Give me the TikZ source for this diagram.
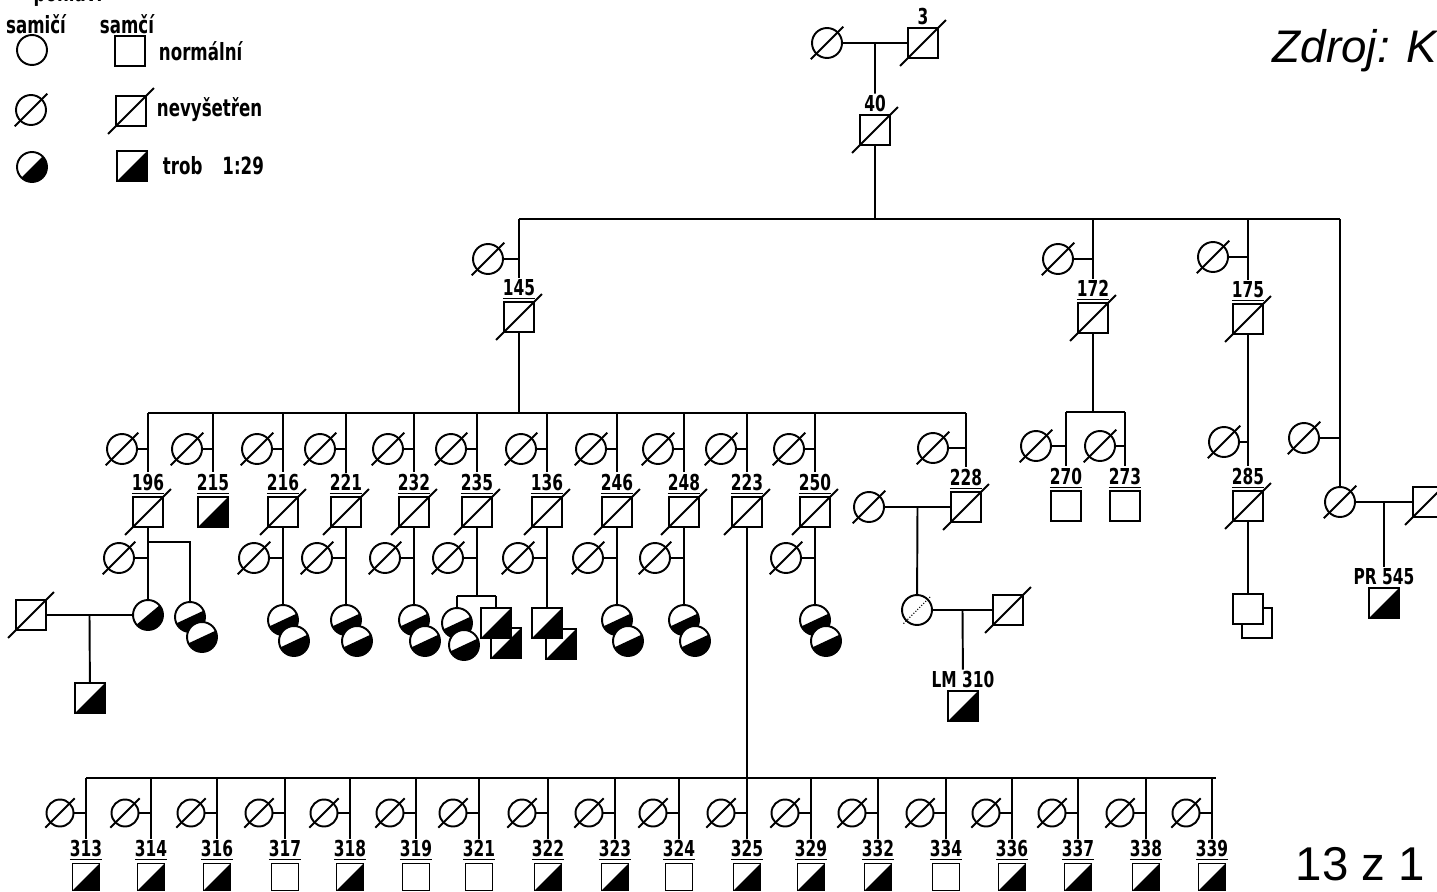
\documentclass[tikz,border=0pt]{standalone}
\usepackage{fontspec}
\setmainfont{Liberation Sans}
\newfontfamily\labfont[FakeStretch=0.78]{DejaVu Sans Condensed}
\usetikzlibrary{positioning,calc}
\tikzset{
  ind/.style={draw,fill=white,inner sep=0pt,minimum size=0.6cm},
  fem/.style={ind,circle},
  mal/.style={ind,rectangle},
  small/.style={minimum size=0.54cm},
  nv/.style={append after command={
    ($(\tikzlastnode.south west)!-0.22!(\tikzlastnode.north east)$) edge
    ($(\tikzlastnode.north east)!-0.22!(\tikzlastnode.south west)$)}},
  nvd/.style={append after command={
    ($(\tikzlastnode.south west)!-0.1!(\tikzlastnode.north east)$) edge[densely dotted,line width=0.6pt]
    ($(\tikzlastnode.north east)!-0.1!(\tikzlastnode.south west)$)}},
  aff/.style={path picture={\fill[black]
    ($(path picture bounding box.center)+(#1:1cm)$) --
    ($(path picture bounding box.center)+(#1-90:1cm)$) --
    ($(path picture bounding box.center)+(#1+180:1cm)$) -- cycle;}},
  aff/.default=45,
  nrm/.style={},
  num/.style={font=\labfont\bfseries\fontsize{12.5}{13}\selectfont,inner sep=0.5pt},
  leg/.style={font=\labfont\bfseries\fontsize{13.5}{15}\selectfont,inner sep=0pt,anchor=west},
}

\begin{document}
\begin{tikzpicture}[x=0.02cm,y=-0.02cm,line width=1.1pt]
  \useasboundingbox (0,0) rectangle (1437,892);
  % legend
  \node[leg,anchor=center] (pohl) at (68,-6) {pohlaví};
  \node[leg,anchor=center] (samici) at (36,24) {samičí};
  \node[leg,anchor=center] (samci) at (127,24) {samčí};
  \node[fem] (lf1) at (32,50) {};
  \node[mal] (lm1) at (130,51) {};
  \node[leg] (ltx1) at (158,51) {normální};
  \node[fem,nv] (lf2) at (31,110) {};
  \node[mal,nv] (lm2) at (131,111) {};
  \node[leg] (ltx2) at (156,110) {nevyšetřen};
  \node[fem,aff] (lf3) at (32,167) {};
  \node[mal,aff] (lm3) at (132,166) {};
  \node[leg] (ltx3) at (162,166) {trob\hspace{0.4cm}1:29};
  \node[font=\itshape\fontsize{26}{30}\selectfont,anchor=base west,inner sep=0pt] (zdroj) at (1272,63) {Zdroj: K};
  \node[font=\fontsize{27}{30}\selectfont,anchor=base west,inner sep=0pt] (strana) at (1295,880) {13 z 1};

  % founders and 40
  \node[fem,nv] (f1) at (827,43) {};
  \node[mal,nv] (m3) at (923,43) {};
  \node[num,above=0pt of m3] (t3) {3};
  \node[mal,nv] (m40) at (875,130) {};
  \node[num,above=0pt of m40] (t40) {40};
  \coordinate (c1) at ($(f1)!0.5!(m3)$);
  \draw (f1) -- (m3);
  \draw (c1) -- (t40);

  % sons of 40
  \coordinate (s2l) at (519,219);
  \coordinate (s2r) at (1340,219);
  \draw (s2l) -- (s2r);
  \draw (m40) -- (m40 |- s2l);
  \node[fem,nv] (w145) at (488,259) {};
  \node[mal,nv] (m145) at (519,317) {};
  \node[num,above=0pt of m145] (t145) {\underline{145}};
  \draw (s2l) -- (t145);
  \draw (w145) -- (w145 -| m145);
  \node[fem,nv] (w172) at (1058,259) {};
  \node[mal,nv] (m172) at (1093,318) {};
  \node[num,above=0pt of m172] (t172) {\underline{172}};
  \draw (m172 |- s2l) -- (t172);
  \draw (w172) -- (w172 -| m172);
  \node[fem,nv] (w175) at (1213,257) {};
  \node[mal,nv] (m175) at (1248,319) {};
  \node[num,above=0pt of m175] (t175) {\underline{175}};
  \draw (m175 |- s2l) -- (t175);
  \draw (w175) -- (w175 -| m175);
  \node[fem,nv] (wr) at (1304,438) {};
  \node[fem,nv] (fr) at (1340,502) {};
  \draw (s2r) -- (fr);
  \draw (wr) -- (wr -| fr);

  % sons of 145
  \coordinate (s3l) at (148,413);
  \coordinate (s3r) at (966,413);
  \draw (s3l) -- (s3r);
  \draw (m145) -- (m145 |- s3l);
  \foreach \n/\x/\st in {196/148/nv,215/213/aff,216/283/nv,221/346/nv,232/414/nv,235/477/nv,
      136/547/nv,246/617/nv,248/684/nv,223/747/nv,250/815/nv}{
    \node[mal,\st] (m\n) at (\x,512) {};
    \node[num,above=0pt of m\n] (t\n) {\underline{\n}};
    \node[fem,nv] (w\n) at (\x-26,449) {};
    \draw (m\n |- s3l) -- (t\n);
    \draw (w\n) -- (w\n -| m\n);
  }
  \foreach \n in {196,216,221,232,235,136,246,248,250}{
    \node[fem,nv] (v\n) at ($(m\n)+(-29,46)$) {};
    \draw (v\n) -- (v\n -| m\n);
  }
  \foreach \n in {216,221,232,246,248,250}{
    \node[fem,aff=25] (a\n) at ($(m\n)+(0,108)$) {};
    \node[fem,aff=25] (b\n) at ($(a\n)+(11,21)$) {};
    \draw (m\n) -- (a\n);
  }

  % 196
  \node[fem,aff=40] (d196) at (148,615) {};
  \node[mal,nv] (h196) at (31,615) {};
  \coordinate (c196) at ($(h196)!0.5!(d196)$);
  \node[mal,aff] (g196) at (90,698) {};
  \draw (m196) -- (d196);
  \draw (h196) -- (d196);
  \draw (c196) -- (g196);
  \coordinate (k196) at (190,542);
  \node[fem,aff=25] (a196) at (190,617) {};
  \node[fem,aff=25] (b196) at (202,637) {};
  \draw (m196 |- k196) -- (k196) -- (a196);

  % 235
  \coordinate (k235l) at (457,596);
  \coordinate (k235r) at (496,596);
  \draw (m235) -- (m235 |- k235l);
  \draw (k235l) -- (k235r);
  \node[fem,aff=25] (a235) at (457,623) {};
  \node[fem,aff=25] (b235) at (464,645) {};
  \node[mal,aff] (r235) at (506,643) {};
  \node[mal,aff] (q235) at (496,623) {};
  \draw (k235l) -- (a235);
  \draw (k235r) -- (q235);

  % 136
  \node[mal,aff] (r136) at (561,644) {};
  \node[mal,aff] (q136) at (547,623) {};
  \draw (m136) -- (q136);

  % 228
  \node[fem,nv] (v228) at (933,448) {};
  \node[mal,nv] (m228) at (966,507) {};
  \node[num,above=0pt of m228] (t228) {\underline{228}};
  \draw (s3r) -- (t228);
  \draw (v228) -- (v228 -| m228);
  \node[fem,nv] (u228) at (869,507) {};
  \draw (u228) -- (m228);
  \coordinate (c228) at ($(u228)!0.5!(m228)$);
  \node[fem,nvd] (d228) at (917,610) {};
  \node[mal,nv] (h228) at (1008,610) {};
  \draw (c228) -- (d228);
  \draw (d228) -- (h228);
  \coordinate (e228) at ($(d228)!0.5!(h228)$);
  \node[mal,aff] (m310) at (963,706) {};
  \node[num,above=0pt of m310] (t310) {LM 310};
  \draw (e228) -- (t310);

  % 172
  \coordinate (k172l) at (1066,412);
  \coordinate (k172r) at (1125,412);
  \draw (m172) -- (m172 |- k172l);
  \draw (k172l) -- (k172r);
  \node[fem,nv] (w270) at (1036,446) {};
  \node[mal] (m270) at (1066,506) {};
  \node[num,above=0pt of m270] (t270) {\underline{270}};
  \draw (k172l) -- (t270);
  \draw (w270) -- (w270 -| m270);
  \node[fem,nv] (w273) at (1100,446) {};
  \node[mal] (m273) at (1125,506) {};
  \node[num,above=0pt of m273] (t273) {\underline{273}};
  \draw (k172r) -- (t273);
  \draw (w273) -- (w273 -| m273);

  % 175
  \node[fem,nv] (w285) at (1224,442) {};
  \node[mal,nv] (m285) at (1248,506) {};
  \node[num,above=0pt of m285] (t285) {\underline{285}};
  \draw (m175) -- (t285);
  \draw (w285) -- (w285 -| m285);
  \node[mal] (r285) at (1257,623) {};
  \node[mal] (q285) at (1248,609) {};
  \draw (m285) -- (q285);

  % right branch
  \node[mal,nv] (hr) at (1428,502) {};
  \draw (fr) -- (hr);
  \coordinate (cr) at ($(fr)!0.5!(hr)$);
  \node[mal,aff] (m545) at (1384,603) {};
  \node[num,above=0pt of m545] (t545) {PR 545};
  \draw (cr) -- (t545);

  % children of 223
  \coordinate (s5l) at (86,778);
  \coordinate (s5r) at (1216,778);
  \draw (s5l) -- (s5r);
  \draw (m223) -- (m223 |- s5l);
  \foreach \n/\x/\st in {313/86/aff,314/151/aff,316/217/aff,317/285/nrm,318/350/aff,319/416/nrm,
      321/479/nrm,322/548/aff,323/615/aff,324/679/nrm,325/747/aff,329/811/aff,332/878/aff,
      334/946/nrm,336/1012/aff,337/1078/aff,338/1146/aff,339/1212/aff}{
    \node[mal,small,\st] (m\n) at (\x,877) {};
    \node[num,above=0pt of m\n] (t\n) {\underline{\n}};
    \node[fem,small,nv] (w\n) at (\x-26,813) {};
    \draw (m\n |- s5l) -- (t\n);
    \draw (w\n) -- (w\n -| m\n);
  }
\end{tikzpicture}
\end{document}
